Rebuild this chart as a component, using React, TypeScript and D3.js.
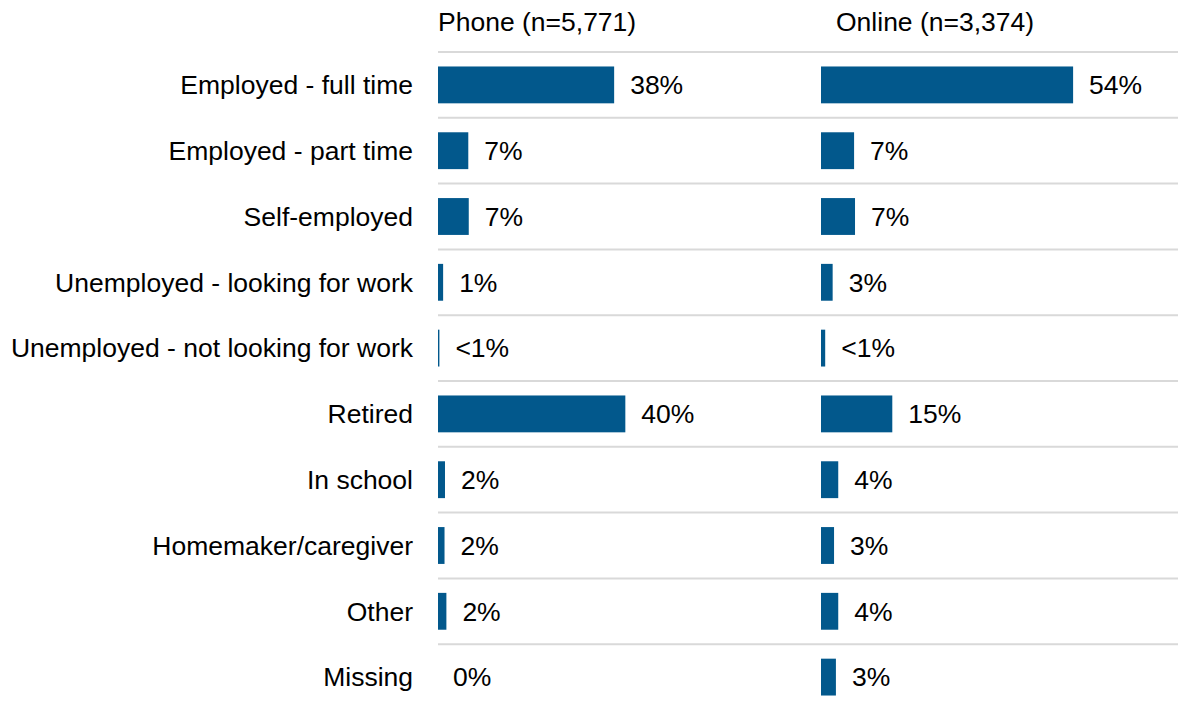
import React from "react";
import * as d3 from "d3";

const categories = [
  "Employed - full time",
  "Employed - part time",
  "Self-employed",
  "Unemployed - looking for work",
  "Unemployed - not looking for work",
  "Retired",
  "In school",
  "Homemaker/caregiver",
  "Other",
  "Missing",
];

const phoneValues = [37.8, 6.5, 6.6, 1.1, 0.3, 40.2, 1.5, 1.4, 1.8, 0];
const phoneLabels = ["38%", "7%", "7%", "1%", "<1%", "40%", "2%", "2%", "2%", "0%"];

const onlineValues = [54.1, 7.1, 7.3, 2.5, 0.9, 15.3, 3.7, 2.8, 3.7, 3.2];
const onlineLabels = ["54%", "7%", "7%", "3%", "<1%", "15%", "4%", "3%", "4%", "3%"];

const panelTitles = ["Phone (n=5,771)", "Online (n=3,374)"];

const W = 1178;
const H = 705;
const FONT = "'Liberation Sans', Arial, Helvetica, sans-serif";
const FS = 26.5;
const BAR = "#02588c";
const GRID = "#d9d9d9";

export default function App() {
  const y = d3
    .scaleBand<string>()
    .domain(categories)
    .range([52, 52 + 65.8 * categories.length])
    .paddingInner(0.44)
    .paddingOuter(0.22);
  const step = y.step();

  const xLeft = d3.scaleLinear().domain([0, 100]).range([438, 438 + 466]);
  const xRight = d3.scaleLinear().domain([0, 100]).range([821, 821 + 466]);

  const panels = [
    { x: xLeft, values: phoneValues, labels: phoneLabels, title: panelTitles[0], titleX: 438 },
    { x: xRight, values: onlineValues, labels: onlineLabels, title: panelTitles[1], titleX: 836 },
  ];

  const rowTop = (c: string) => (y(c) as number) - step * 0.22;

  return (
    <svg
      width={W}
      height={H}
      style={{ position: "absolute", left: 0, top: 0, background: "#fff" }}
      fontFamily={FONT}
    >
      {/* separator lines */}
      {categories.map((c) => (
        <line
          key={"g" + c}
          x1={438}
          x2={W}
          y1={rowTop(c)}
          y2={rowTop(c)}
          stroke={GRID}
          strokeWidth={2}
        />
      ))}

      {/* category labels */}
      {categories.map((c) => (
        <text
          key={"l" + c}
          x={413}
          y={(y(c) as number) + y.bandwidth() / 2}
          dy="0.35em"
          textAnchor="end"
          fontSize={FS}
          fill="#000"
        >
          {c}
        </text>
      ))}

      {panels.map((p, pi) => (
        <g key={"p" + pi}>
          <text x={p.titleX} y={31} fontSize={FS} fill="#000">
            {p.title}
          </text>
          {categories.map((c, i) => {
            const x0 = p.x(0);
            const x1 = p.x(p.values[i]);
            const yc = (y(c) as number) + y.bandwidth() / 2;
            return (
              <g key={c}>
                {p.values[i] > 0 && (
                  <rect
                    x={x0}
                    y={y(c)}
                    width={x1 - x0}
                    height={y.bandwidth()}
                    fill={BAR}
                  />
                )}
                <text
                  x={x1 + (p.values[i] > 0 ? 16 : 15)}
                  y={yc}
                  dy="0.35em"
                  fontSize={FS}
                  fill="#000"
                >
                  {p.labels[i]}
                </text>
              </g>
            );
          })}
        </g>
      ))}
    </svg>
  );
}
